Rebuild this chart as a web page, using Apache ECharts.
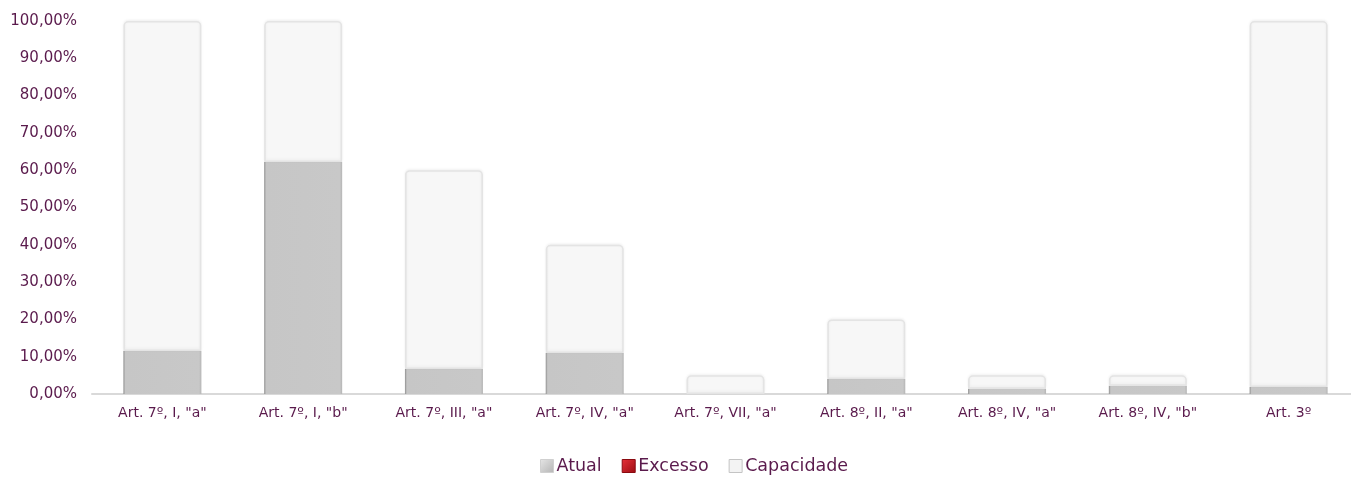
<!DOCTYPE html>
<html><head><meta charset="utf-8">
<script src="https://cdn.jsdelivr.net/npm/echarts@6/dist/echarts.min.js"></script>
<style>html,body{margin:0;padding:0;background:#fff}#c{width:1351px;height:477px}</style>
</head><body><div id="c"></div>
<script>
const categories = ['Art. 7º, I, "a"','Art. 7º, I, "b"','Art. 7º, III, "a"','Art. 7º, IV, "a"','Art. 7º, VII, "a"','Art. 8º, II, "a"','Art. 8º, IV, "a"','Art. 8º, IV, "b"','Art. 3º'];
const atual = [11.5, 62.2, 6.7, 11.0, 0, 4.0, 1.4, 2.2, 1.9];
const excesso = [0, 0, 0, 0, 0, 0, 0, 0, 0];
const limite = [100, 100, 60, 40, 5, 20, 5, 5, 100];
const capacidade = limite.map((v, i) => +(v - atual[i] - excesso[i]).toFixed(2));

const txt = '#5a1a4c';
const font = '"DejaVu Sans", sans-serif';
const chart = echarts.init(document.getElementById('c'));
const grayGrad = new echarts.graphic.LinearGradient(0, 0, 1, 0, [
  { offset: 0, color: '#8f8f8f' }, { offset: 0.025, color: '#c6c6c6' },
  { offset: 0.97, color: '#c8c8c8' }, { offset: 1, color: '#b5b5b5' }
]);
const capGrad = new echarts.graphic.LinearGradient(0, 0, 1, 0, [
  { offset: 0, color: '#e8e8e8' }, { offset: 0.03, color: '#f7f7f7' },
  { offset: 0.97, color: '#f7f7f7' }, { offset: 1, color: '#ececec' }
]);
const iconGray = new echarts.graphic.LinearGradient(0, 0, 1, 1, [
  { offset: 0, color: '#e6e6e6' }, { offset: 1, color: '#b4b4b4' }
]);
const iconRed = new echarts.graphic.LinearGradient(0, 0, 1, 1, [
  { offset: 0, color: '#e8323a' }, { offset: 1, color: '#9a0c12' }
]);
chart.setOption({
  animation: false,
  textStyle: { fontFamily: font },
  grid: { left: 92, width: 1267, top: 21, bottom: 83, containLabel: false, outerBoundsMode: 'none' },
  legend: {
    top: 452, left: 535, itemWidth: 13, itemHeight: 13, itemGap: 20,
    icon: 'rect',
    textStyle: { color: txt, fontSize: 17.5, fontFamily: font, padding: [0, 0, 0, -2] },
    data: [
      { name: 'Atual', itemStyle: { color: iconGray, borderColor: '#d0d0d0', borderWidth: 1 } },
      { name: 'Excesso', itemStyle: { color: iconRed, borderColor: '#8a0a10', borderWidth: 1 } },
      { name: 'Capacidade', itemStyle: { color: '#f3f3f3', borderColor: '#c4c4c4', borderWidth: 1 } }
    ]
  },
  xAxis: {
    type: 'category', data: categories,
    axisLine: { lineStyle: { color: '#d9d9d9', width: 2 } },
    axisTick: { show: false },
    axisLabel: { color: txt, fontSize: 14, margin: 12, fontFamily: font }
  },
  yAxis: {
    type: 'value', min: 0, max: 100, interval: 10,
    splitLine: { show: false },
    axisLine: { show: false }, axisTick: { show: false },
    axisLabel: { color: txt, fontSize: 15, margin: 15, fontFamily: font,
      formatter: v => v.toFixed(2).replace('.', ',') + '%' }
  },
  series: [
    { name: 'Atual', type: 'bar', stack: 't', barWidth: 78, data: atual,
      itemStyle: { color: grayGrad } },
    { name: 'Excesso', type: 'bar', stack: 't', data: excesso,
      itemStyle: { color: '#c0141c' } },
    { name: 'Capacidade', type: 'bar', stack: 't', data: capacidade,
      itemStyle: { color: capGrad, borderColor: '#e4e4e4', borderWidth: 1.5, borderRadius: [4,4,0,0],
        shadowColor: 'rgba(0,0,0,0.06)', shadowBlur: 3, shadowOffsetY: -1 } }
  ]
});
</script></body></html>
